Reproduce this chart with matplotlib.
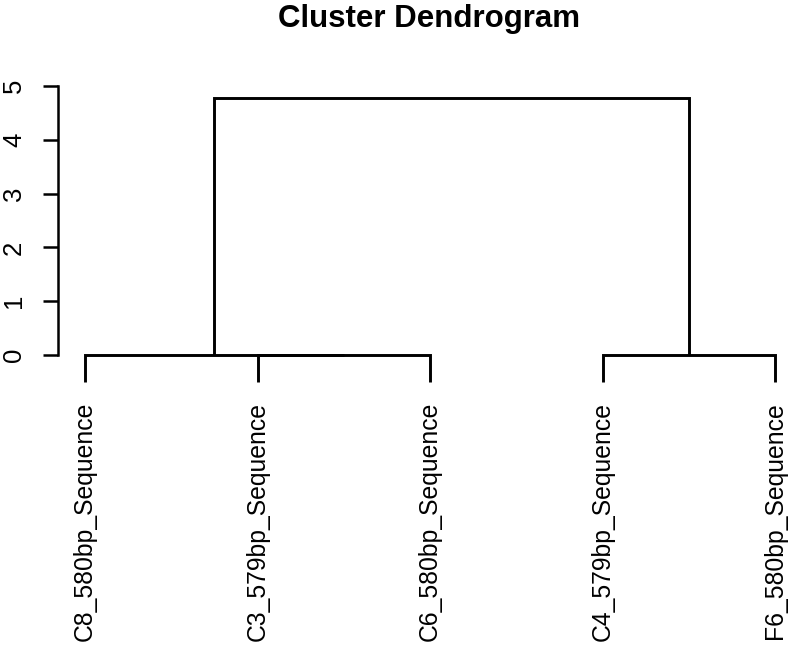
import matplotlib
matplotlib.use("Agg")
import matplotlib.pyplot as plt

plt.rcParams['font.family'] = ['Liberation Sans', 'DejaVu Sans']

# Leaf labels in dendrogram order
labels = ["C8_580bp_Sequence", "C3_579bp_Sequence", "C6_580bp_Sequence",
          "C4_579bp_Sequence", "F6_580bp_Sequence"]
# Merge table (R hclust convention: negative = leaf index (1-based), positive = earlier merge)
merge_left = [-2, -1, -4, 2]
merge_right = [-3, 1, -5, 3]
merge_height = [0.0, 0.0, 0.0, 4.78]
hang = 0.5
y_ticks = [0, 1, 2, 3, 4, 5]

W, H = 795, 655
fig = plt.figure(figsize=(W / 100, H / 100), dpi=100)

# axes placement in pixels
px_left, px_right = 58, 785
px_zero, px_per_unit = 355, 53.8
x_per = 172.5
xl0 = 1 - (85 - px_left) / x_per
xl1 = 5 + (px_right - 775) / x_per
yl0, yl1 = -0.62, 5.0
px_bot = px_zero + (-yl0) * px_per_unit
px_top = px_zero - yl1 * px_per_unit
ax = fig.add_axes([px_left / W, 1 - px_bot / H, (px_right - px_left) / W, (px_bot - px_top) / H])
ax.set_xlim(xl0, xl1)
ax.set_ylim(yl0, yl1)

lw = 2.1
col = "black"

def node_pos(ref, centers):
    if ref < 0:
        return float(-ref), None
    return centers[ref - 1], merge_height[ref - 1]

centers = []
for i in range(len(merge_height)):
    h = merge_height[i]
    xs, hs = [], []
    for ref in (merge_left[i], merge_right[i]):
        x, ch = node_pos(ref, centers)
        if ch is None:
            ch = h - hang
        xs.append(x)
        hs.append(ch)
    ax.plot([xs[0], xs[0], xs[1], xs[1]], [hs[0], h, h, hs[1]],
            color=col, lw=lw, solid_capstyle='butt', solid_joinstyle='miter')
    centers.append((xs[0] + xs[1]) / 2)

# leaf labels
for i, lab in enumerate(labels):
    ax.text(i + 1, -hang - 0.37, lab, rotation=90, ha='center', va='top',
            fontsize=17.8, color=col)

for s in ['top', 'right', 'bottom']:
    ax.spines[s].set_visible(False)
ax.spines['left'].set_bounds(0, 5)
ax.spines['left'].set_linewidth(1.8)
ax.set_xticks([])
ax.set_yticks(y_ticks)
ax.set_yticklabels([str(t) for t in y_ticks], rotation=90, va='center', fontsize=18.5)
ax.tick_params(axis='y', length=11, width=1.8, pad=12)
ax.patch.set_visible(False)

fig.text(429 / W, 1 - 19 / H, "Cluster Dendrogram", ha='center', va='center',
         fontsize=22.5, fontweight='bold')

fig.savefig("out.png", dpi=100)
